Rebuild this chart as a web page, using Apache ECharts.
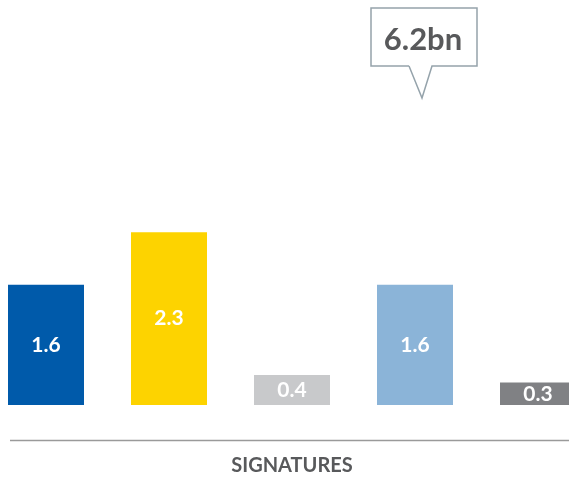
<!DOCTYPE html>
<html>
<head>
<meta charset="UTF-8">
<title>Signatures</title>
<script src="https://cdn.jsdelivr.net/npm/echarts@6/dist/echarts.min.js"></script>
<style>
	html, body { margin: 0; padding: 0; background: #fff; }
	#charts { width: 569px; height: 481px; }
</style>
<script type="text/javascript">

	var categories = ['A', 'B', 'C', 'D', 'E'];
	var values = [1.6, 2.3, 0.4, 1.6, 0.3];
	var barColors = ['#005aaa', '#fdd300', '#c8c9cb', '#8bb4d8', '#808184'];
	var axisTitle = 'SIGNATURES';
	var totalLabel = '6.2bn';

	function init() {
		var chart = echarts.init(document.getElementById('charts'));

		var option = {
			animation : false,
			grid : {
				left : 46,
				right : 31,
				top : 104.6,
				bottom : 74
			},
			xAxis : {
				type : 'category',
				data : categories,
				boundaryGap : false,
				axisLine : { show : false },
				axisTick : { show : false },
				axisLabel : { show : false },
				name : axisTitle,
				nameLocation : 'middle',
				nameGap : 61,
				nameTextStyle : {
					color : '#58595b',
					fontFamily : 'Lato',
					fontWeight : 'bold',
					fontSize : 20,
					verticalAlign : 'middle'
				}
			},
			yAxis : {
				type : 'value',
				min : 0,
				max : 4,
				show : false
			},
			series : [ {
				type : 'bar',
				barWidth : 76,
				data : values.map(function(v, i) {
					return { value : v, itemStyle : { color : barColors[i] } };
				}),
				label : {
					show : true,
					position : 'inside',
					color : '#fff',
					fontFamily : 'Lato',
					fontWeight : 'bold',
					fontSize : 21
				}
			} ],
			graphic : [ {
				type : 'line',
				shape : { x1 : 10, y1 : 440.5, x2 : 569, y2 : 440.5 },
				style : { stroke : '#9a9a9a', lineWidth : 1.5 }
			}, {
				type : 'polyline',
				shape : {
					points : [ [409, 66], [371, 66], [371, 8], [477, 8], [477, 66], [432, 66], [422, 98], [409, 66] ]
				},
				style : { stroke : '#95a3ab', lineWidth : 1.5, fill : '#fff' }
			}, {
				type : 'text',
				x : 423,
				y : 40,
				style : {
					text : totalLabel,
					align : 'center',
					verticalAlign : 'middle',
					fill : '#58595b',
					fontFamily : 'Lato',
					fontWeight : 'bold',
					fontSize : 31
				}
			} ]
		};

		chart.setOption(option);
	}

	window.onload = function() {
		init();
	}
</script>
</head>
<body>
	<div id="charts"></div>
</body>
</html>
